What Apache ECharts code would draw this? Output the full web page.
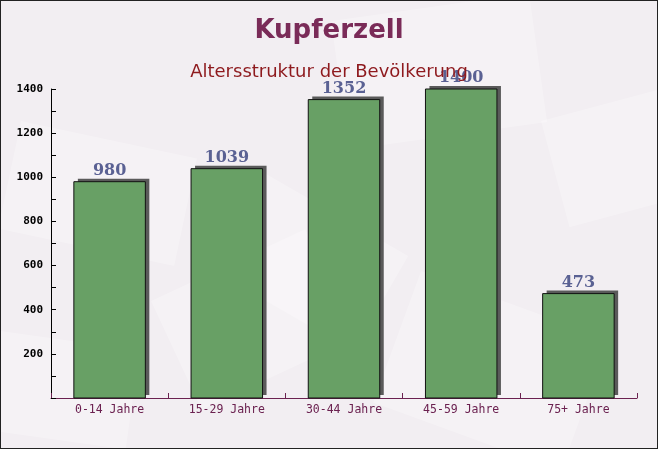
<!DOCTYPE html>
<html>
<head>
<meta charset="utf-8">
<script src="https://cdn.jsdelivr.net/npm/echarts@6/dist/echarts.min.js"></script>
<style>
html,body{margin:0;padding:0;}
#c{width:658px;height:449px;box-sizing:border-box;border:1px solid #222;background:#f2eef2;}
</style>
</head>
<body>
<div id="c"></div>
<script>
const categories = ['0-14 Jahre', '15-29 Jahre', '30-44 Jahre', '45-59 Jahre', '75+ Jahre'];
const values = [980, 1039, 1352, 1400, 473];
const yTicks = [0, 200, 400, 600, 800, 1000, 1200, 1400];

const chart = echarts.init(document.getElementById('c'), null, {renderer: 'canvas'});
const env = [
  [20, 120, 180, 110, -12], [330, 20, 200, 130, 8], [420, 270, 200, 140, -20],
  [150, 300, 170, 120, 25], [540, 120, 150, 110, 15], [0, 330, 140, 100, -8],
  [260, 170, 170, 110, -30]
];
chart.setOption({
  animation: false,
  graphic: env.map(e => ({
    type: 'rect', silent: true, z: -10,
    x: e[0], y: e[1], rotation: e[4] * Math.PI / 180,
    shape: {x: 0, y: 0, width: e[2], height: e[3]},
    style: {fill: 'rgba(255,255,255,0.25)'}
  })),
  title: [
    {text: 'Kupferzell', left: 'center', top: 12,
     textStyle: {fontFamily: 'DejaVu Sans', fontWeight: 'bold', fontSize: 26, color: '#7a2b58'}},
    {text: 'Altersstruktur der Bevölkerung', left: 'center', top: 57,
     textStyle: {fontFamily: 'DejaVu Sans', fontWeight: 'normal', fontSize: 18, color: '#8e1a1e'}}
  ],
  grid: {left: 50, right: 20, top: 88, bottom: 50},
  xAxis: {
    type: 'category', data: categories,
    axisLine: {lineStyle: {color: '#6b2150', width: 1}},
    axisTick: {show: true, inside: true, length: 5, lineStyle: {color: '#6b2150'}},
    axisLabel: {fontFamily: 'DejaVu Sans Mono', fontSize: 11.5, color: '#6b2150', margin: 6}
  },
  yAxis: {
    type: 'value', min: yTicks[0], max: yTicks[yTicks.length - 1], interval: 200,
    axisLine: {show: true, lineStyle: {color: '#000', width: 1}},
    axisTick: {show: true, inside: true, length: 5, lineStyle: {color: '#000'}},
    minorTick: {show: true, splitNumber: 2, length: 5, lineStyle: {color: '#000'}},
    splitLine: {show: false},
    axisLabel: {fontFamily: 'DejaVu Sans Mono', fontWeight: 'bold', fontSize: 11, color: '#000', margin: 8,
      formatter: v => v === 0 ? '' : String(v)}
  },
  series: [{
    type: 'custom',
    data: values.map((v, i) => [i, v]),
    encode: {x: 0, y: 1},
    renderItem: function (params, api) {
      const top = api.coord([api.value(0), api.value(1)]);
      const base = api.coord([api.value(0), 0]);
      const w = api.size([1, 0])[0] * 0.61;
      const x0 = top[0] - w / 2;
      const h = base[1] - top[1];
      return {
        type: 'group',
        children: [
          {type: 'rect', shape: {x: x0 + 4, y: top[1] - 3, width: w, height: h},
           style: {fill: '#5a5a5a'}},
          {type: 'rect', shape: {x: x0, y: top[1], width: w, height: h},
           style: {fill: '#68a065', stroke: '#111', lineWidth: 1}},
          {type: 'text', x: top[0], y: top[1] - 3,
           style: {text: String(api.value(1)), align: 'center', verticalAlign: 'bottom',
             font: 'bold 16px "DejaVu Serif"', fill: '#5a6193'}}
        ]
      };
    }
  }]
});
</script>
</body>
</html>
